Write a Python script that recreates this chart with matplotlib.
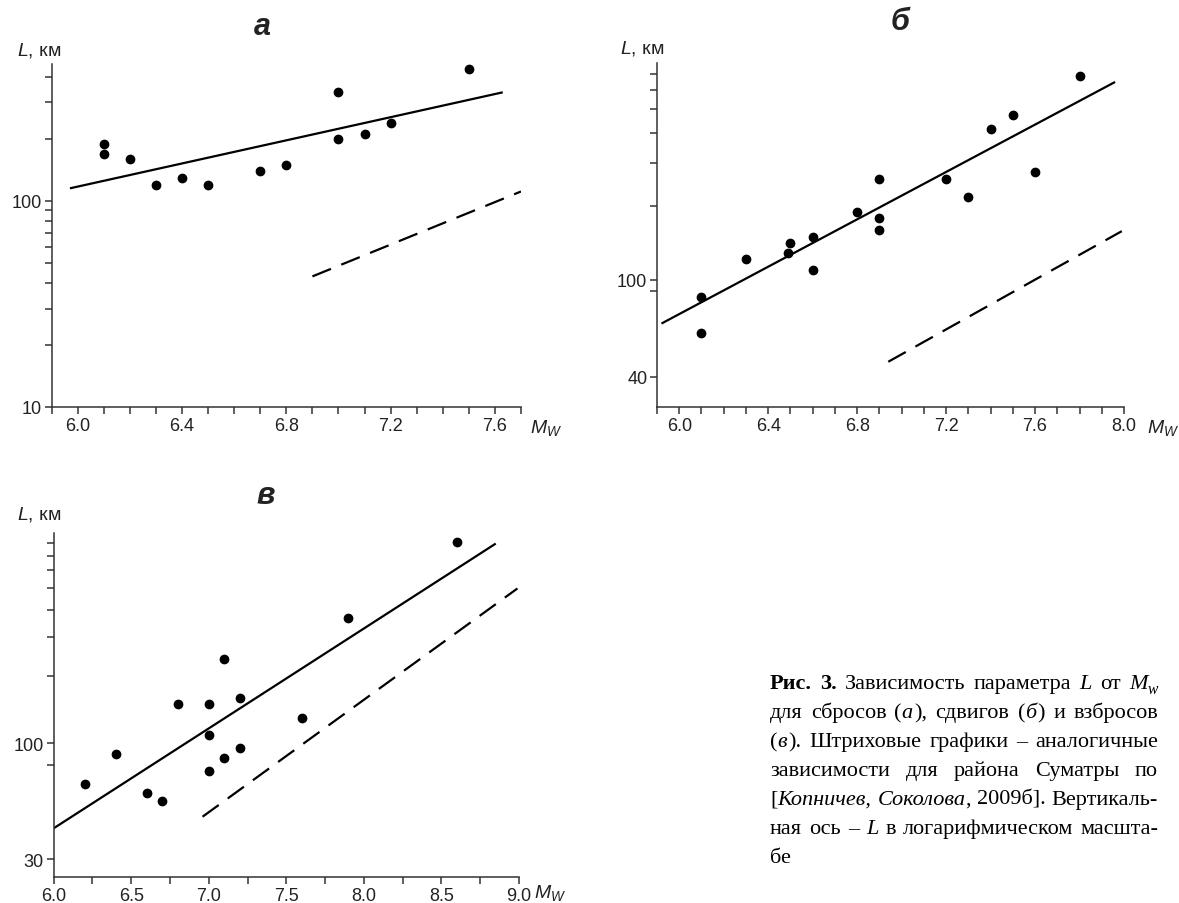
import matplotlib
matplotlib.use('Agg')
import matplotlib.pyplot as plt
from matplotlib.ticker import FixedLocator, MultipleLocator, FormatStrFormatter, NullFormatter

plt.rcParams['font.family'] = ['Liberation Sans', 'DejaVu Sans']
plt.rcParams['mathtext.fontset'] = 'custom'
plt.rcParams['mathtext.it'] = 'Liberation Sans:italic'
plt.rcParams['mathtext.rm'] = 'Liberation Sans'

W, H = 1179, 904

# а - сбросы
mw_a = [6.1, 6.1, 6.2, 6.3, 6.4, 6.5, 6.7, 6.8, 7.0, 7.0, 7.1, 7.2, 7.5]
L_a = [189, 169, 160, 120, 129, 119, 140, 150, 338, 200, 210, 239, 436]
fit_mw_a = [5.97, 7.63]
fit_L_a = [115, 336]
sum_mw_a = [6.9, 7.7]
sum_L_a = [43, 111]
yticks_a = [10, 100]
yminor_a = [20, 30, 40, 50, 60, 70, 80, 90, 200, 300, 400]

# б - сдвиги
mw_b = [6.1, 6.1, 6.3, 6.49, 6.5, 6.6, 6.6, 6.8, 6.9, 6.9, 6.9, 7.2, 7.3, 7.4, 7.5, 7.6, 7.8]
L_b = [85, 60.5, 121, 129, 141, 150, 109, 189, 179, 160, 259, 258, 218, 416, 474, 277, 687]
fit_mw_b = [5.92, 7.96]
fit_L_b = [66, 647]
sum_mw_b = [6.94, 7.99]
sum_L_b = [46, 158]
yticks_b = [40, 100]
yminor_b = [90, 200, 300, 400, 500, 600, 700]

# в - взбросы
mw_c = [6.2, 6.4, 6.6, 6.7, 6.8, 7.0, 7.0, 7.0, 7.1, 7.1, 7.2, 7.2, 7.6, 7.9, 8.6]
L_c = [65.5, 89.5, 60, 55, 150, 150, 109, 75, 240, 85.5, 160, 95.5, 130, 367, 810]
fit_mw_c = [6.0, 8.85]
fit_L_c = [41.4, 793]
sum_mw_c = [6.96, 8.99]
sum_L_c = [46.7, 498]
yticks_c = [30, 100]
yminor_c = [80, 200, 300, 400, 500, 600, 700, 800]

AX_COL = '#333333'
TXT_COL = '#222222'


def px(x, y):
    return x / W, 1 - y / H


def axes_px(fig, left, top, right, bottom):
    return fig.add_axes([left / W, 1 - bottom / H, (right - left) / W, (bottom - top) / H])


def panel(ax, mw, L, fit_mw, fit_L, sum_mw, sum_L, xlim, ylim, xticks, xminor, yticks, yminor):
    ax.plot(fit_mw, fit_L, color='black', lw=1.6, solid_capstyle='butt')
    ax.plot(sum_mw, sum_L, color='black', lw=1.6, dashes=(9, 5))
    ax.plot(mw, L, 'o', color='black', ms=6, mec='black')
    ax.set_yscale('log')
    ax.set_xlim(*xlim)
    ax.set_ylim(*ylim)
    for s in ['top', 'right']:
        ax.spines[s].set_visible(False)
    for s in ['left', 'bottom']:
        ax.spines[s].set_color(AX_COL)
        ax.spines[s].set_linewidth(1.1)
    ax.xaxis.set_major_locator(FixedLocator(xticks))
    ax.xaxis.set_minor_locator(MultipleLocator(xminor))
    ax.xaxis.set_major_formatter(FormatStrFormatter('%.1f'))
    ax.yaxis.set_major_locator(FixedLocator(yticks))
    ax.yaxis.set_major_formatter(FormatStrFormatter('%d'))
    ax.yaxis.set_minor_locator(FixedLocator(yminor))
    ax.yaxis.set_minor_formatter(NullFormatter())
    ax.tick_params(which='both', direction='out', length=5, width=1.1, color=AX_COL,
                   labelsize=13, labelcolor=TXT_COL, pad=2)


fig = plt.figure(figsize=(W / 100, H / 100), dpi=100)

ax_a = axes_px(fig, 51.7, 65, 521, 408)
panel(ax_a, mw_a, L_a, fit_mw_a, fit_L_a, sum_mw_a, sum_L_a,
      (5.9, 7.7), (10, 461), [6.0, 6.4, 6.8, 7.2, 7.6], 0.1, yticks_a, yminor_a)

ax_b = axes_px(fig, 657, 64, 1124, 408)
panel(ax_b, mw_b, L_b, fit_mw_b, fit_L_b, sum_mw_b, sum_L_b,
      (5.9, 8.0), (30, 774), [6.0, 6.4, 6.8, 7.2, 7.6, 8.0], 0.1, yticks_b, yminor_b)

ax_c = axes_px(fig, 53.6, 534, 519, 878)
panel(ax_c, mw_c, L_c, fit_mw_c, fit_L_c, sum_mw_c, sum_L_c,
      (6.0, 9.0), (25, 885), [6.0, 6.5, 7.0, 7.5, 8.0, 8.5, 9.0], 0.25, yticks_c, yminor_c)

# подписи панелей и осей
for lab, x, y in [('а', 262, 27), ('б', 900, 22), ('в', 266, 496)]:
    fig.text(*px(x, y), lab, fontsize=22, fontweight='bold', fontstyle='italic',
             ha='center', va='center', color=TXT_COL)

for x, y in [(17, 51), (620, 49), (17, 515)]:
    fig.text(*px(x, y), '$L$, км', fontsize=14, ha='left', va='center', color=TXT_COL)

for x, y in [(530, 428), (1147, 428), (534, 893)]:
    fig.text(*px(x, y), '$M_W$', fontsize=14, ha='left', va='center', color=TXT_COL)

# подпись к рисунку (по ширине)
caption = [
    [[('Рис.', 'b')], [('3.', 'b')], [('Зависимость', 'n')], [('параметра', 'n')], [('L', 'i')],
     [('от', 'n')], [('M', 'i'), ('w', 's')]],
    [[('для', 'n')], [('сбросов', 'n')], [('(', 'n'), ('а', 'i'), ('),', 'n')], [('сдвигов', 'n')],
     [('(', 'n'), ('б', 'i'), (')', 'n')], [('и', 'n')], [('взбросов', 'n')]],
    [[('(', 'n'), ('в', 'i'), (').', 'n')], [('Штриховые', 'n')], [('графики', 'n')], [('–', 'n')],
     [('аналогичные', 'n')]],
    [[('зависимости', 'n')], [('для', 'n')], [('района', 'n')], [('Суматры', 'n')], [('по', 'n')]],
    [[('[', 'n'), ('Копничев,', 'i')], [('Соколова', 'i'), (',', 'n')], [('2009б].', 'n')],
     [('Вертикаль-', 'n')]],
    [[('ная', 'n')], [('ось', 'n')], [('–', 'n')], [('L', 'i')], [('в', 'n')],
     [('логарифмическом', 'n')], [('масшта-', 'n')]],
    [[('бе', 'n')]],
]

CAP_FS = 16
SERIF = ['Liberation Serif', 'DejaVu Serif']
styles = {
    'n': dict(fontsize=CAP_FS),
    'b': dict(fontsize=CAP_FS, fontweight='bold'),
    'i': dict(fontsize=CAP_FS, fontstyle='italic'),
    's': dict(fontsize=CAP_FS * 0.7, fontstyle='italic'),
}
cap_left, cap_right = 770, 1158
cap_y0, cap_dy = 689, 29

renderer = fig.canvas.get_renderer()


def piece_width(txt, st):
    t = fig.text(0, 0, txt, family=SERIF, **styles[st])
    w = t.get_window_extent(renderer).width
    t.remove()
    return w


def word_advances(word):
    # курсивная буква перед скобкой чуть отодвигает скобку
    adv = []
    for k, (t, st) in enumerate(word):
        a = piece_width(t, st)
        if st == 'i' and k + 1 < len(word) and word[k + 1][0].startswith(')'):
            a += 1.5
        adv.append(a)
    return adv


for i, line in enumerate(caption):
    y = cap_y0 + i * cap_dy
    advs = [word_advances(word) for word in line]
    word_w = [sum(a) for a in advs]
    if i == len(caption) - 1 or len(line) == 1:
        gap = piece_width(' ', 'n')
    else:
        gap = (cap_right - cap_left - sum(word_w)) / (len(line) - 1)
    x = cap_left
    for word, adv, ww in zip(line, advs, word_w):
        xx = x
        for (t, st), a in zip(word, adv):
            dy = 5 if st == 's' else 0
            fig.text(*px(xx, y + dy), t, family=SERIF, ha='left', va='baseline',
                     color='black', **styles[st])
            xx += a
        x += ww + gap

fig.savefig('out.png', dpi=100)
